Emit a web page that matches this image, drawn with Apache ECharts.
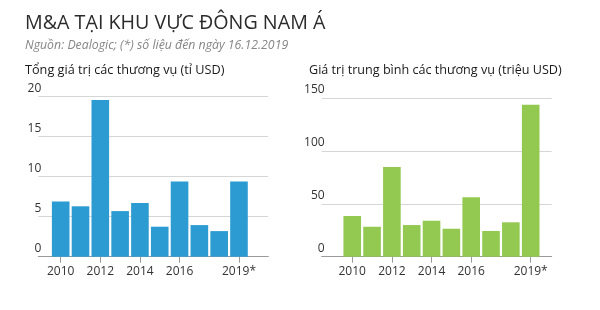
<!DOCTYPE html>
<html>
<head>
<meta charset="utf-8">
<script src="https://cdn.jsdelivr.net/npm/echarts@6/dist/echarts.min.js"></script>
<style>html,body{margin:0;padding:0;background:#fff}#c{width:600px;height:310px}</style>
</head>
<body>
<div id="c"></div>
<script>
var years = [2010, 2011, 2012, 2013, 2014, 2015, 2016, 2017, 2018, 2019];
var totalValue = [6.9, 6.3, 19.6, 5.7, 6.7, 3.75, 9.4, 3.95, 3.2, 9.4];
var avgValue = [38.6, 28.4, 85, 30, 34.1, 26.5, 56.3, 24.4, 32.6, 144];
var xTickYears = [2010, 2012, 2014, 2016, 2019];
var leftTicks = [0, 5, 10, 15, 20];
var rightTicks = [0, 50, 100, 150];
var titleText = 'M&A TẠI KHU VỰC ĐÔNG NAM Á';
var subText = 'Nguồn: Dealogic; (*) số liệu đến ngày 16.12.2019';
var leftTitle = 'Tổng giá trị các thương vụ (tỉ USD)';
var rightTitle = 'Giá trị trung bình các thương vụ (triệu USD)';

var FONT = '"Open Sans", sans-serif';
function pairs(v){ return years.map(function(y,i){ return [y, v[i]]; }); }
function xAxis(idx, min, max){
  return {
    type:'value', gridIndex: idx, min:min, max:max,
    axisLine:{show:true, lineStyle:{color:'#9a9a9a', width:1}},
    axisTick:{show:true, customValues: xTickYears, length:6, lineStyle:{color:'#9a9a9a'}},
    axisLabel:{customValues: xTickYears, margin:9, color:'#333', fontSize:12, fontFamily:FONT,
      formatter:function(v){ return v===2019 ? '2019*' : String(v); }},
    splitLine:{show:false}
  };
}
function yAxis(idx, ticks){
  return {
    type:'value', gridIndex: idx, min: ticks[0], max: ticks[ticks.length-1], interval: ticks[1]-ticks[0],
    axisLine:{show:false}, axisTick:{show:false},
    axisLabel:{margin:-3, align:'right', verticalAlign:'bottom', lineHeight:13, padding:[0,0,2,0],
      color:'#333', fontSize:12, fontFamily:FONT},
    splitLine:{lineStyle:{color:'#d6d6d6', width:1}}
  };
}
var chart = echarts.init(document.getElementById('c'), null, {renderer:'canvas'});
chart.setOption({
  animation:false,
  title:[
    {text:titleText, left:20, top:8, textStyle:{fontFamily:FONT, fontSize:19.7, fontWeight:'normal', color:'#2b2b2b'}},
    {text:subText, left:20, top:34, textStyle:{fontFamily:FONT, fontSize:12.3, fontStyle:'italic', fontWeight:'normal', color:'#858585'}},
    {text:leftTitle, left:20, top:59, textStyle:{fontFamily:FONT, fontSize:12.7, fontWeight:'normal', color:'#1a1a1a'}},
    {text:rightTitle, left:304, top:59, textStyle:{fontFamily:FONT, fontSize:12.6, fontWeight:'normal', color:'#1a1a1a'}}
  ],
  grid:[
    {left:38.3, right:331.7, top:96.7, bottom:53.3},
    {left:321.7, right:48.3, top:98.5, bottom:53.3}
  ],
  xAxis:[ xAxis(0, 2008.87, 2020.48), xAxis(1, 2008.46, 2020.06) ],
  yAxis:[ yAxis(0, leftTicks), yAxis(1, rightTicks) ],
  series:[
    {type:'bar', xAxisIndex:0, yAxisIndex:0, data:pairs(totalValue), barWidth:17.6, itemStyle:{color:'#2b9bd1'}},
    {type:'bar', xAxisIndex:1, yAxisIndex:1, data:pairs(avgValue), barWidth:17.6, itemStyle:{color:'#93c851'}}
  ]
});
</script>
</body>
</html>
